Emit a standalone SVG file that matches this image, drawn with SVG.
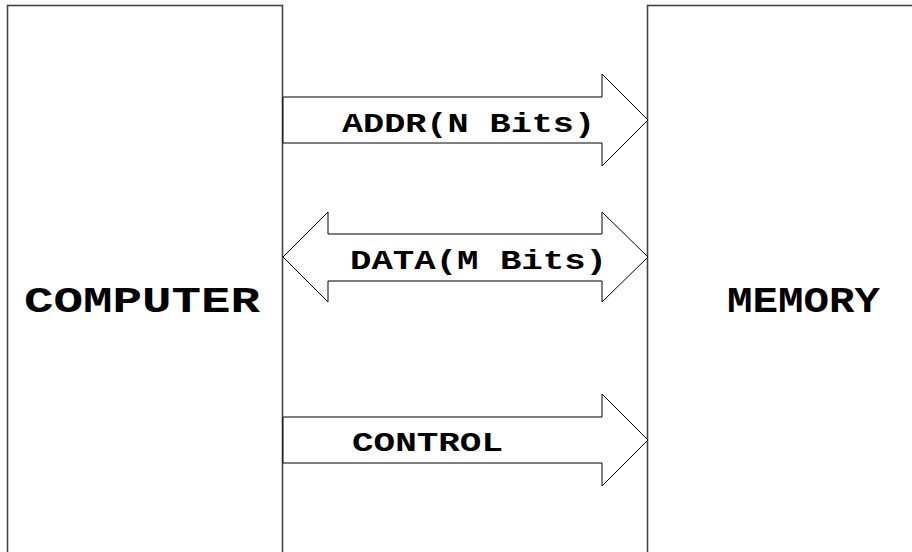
<svg xmlns="http://www.w3.org/2000/svg" width="912" height="552" viewBox="0 0 912 552">
<style>
.box{fill:#fff;stroke:#444;stroke-width:1.6}
.bus{fill:#fff;stroke:#000;stroke-width:1}
.big{font-family:"Liberation Mono","Courier New",monospace;font-weight:bold;font-size:36px;fill:#000}
.lbl{font-family:"Liberation Mono","Courier New",monospace;font-weight:bold;font-size:28px;fill:#000}
</style>
<rect width="912" height="552" fill="#fff"/>
<g id="computer">
<rect class="box" x="7.5" y="5.5" width="275" height="560"/>
<text class="big" x="24" y="312" textLength="236" lengthAdjust="spacingAndGlyphs">COMPUTER</text>
</g>
<g id="memory">
<rect class="box" x="647.5" y="5.5" width="300" height="560"/>
<text class="big" x="727" y="312" textLength="153" lengthAdjust="spacingAndGlyphs">MEMORY</text>
</g>
<g id="connectors">
<g id="addr">
<polygon class="bus" points="283,97 602,97 602,74 648,120 602,166 602,143 283,143"/>
<text class="lbl" x="342" y="132" textLength="253" lengthAdjust="spacingAndGlyphs">ADDR(N Bits)</text>
</g>
<g id="data">
<polygon class="bus" points="283,257 328,212 328,234 602,234 602,212 648,257 602,302 602,281 328,281 328,302"/>
<text class="lbl" x="350" y="269" textLength="257" lengthAdjust="spacingAndGlyphs">DATA(M Bits)</text>
</g>
<g id="control">
<polygon class="bus" points="283,417 602,417 602,394 648,440 602,486 602,463 283,463"/>
<text class="lbl" x="352" y="451" textLength="151" lengthAdjust="spacingAndGlyphs">CONTROL</text>
</g>
</g>
</svg>
